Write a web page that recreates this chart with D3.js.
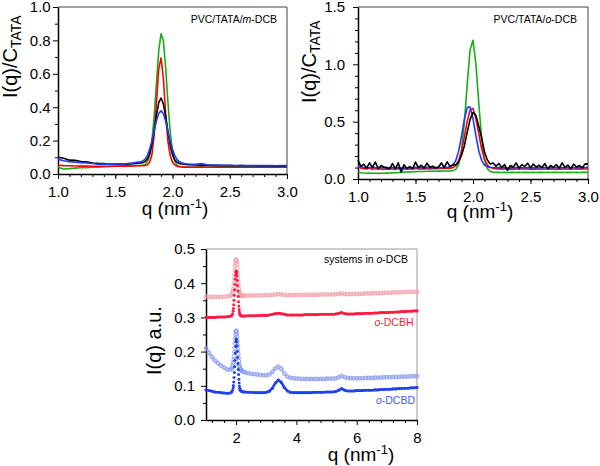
<!DOCTYPE html>
<html><head><meta charset="utf-8">
<script src="https://cdn.jsdelivr.net/npm/d3@7"></script>
<style>body{margin:0;background:#fff;} svg{display:block;font-family:"Liberation Sans",Arial,sans-serif;}</style>
</head><body><svg id="c" width="600" height="466"></svg>
<script>
// ---------- Panel 1: PVC/TATA/m-DCB ----------
const qTL = [1.00,1.05,1.10,1.15,1.20,1.25,1.30,1.35,1.40,1.45,1.50,1.55,1.60,1.65,1.70,
  1.72,1.74,1.76,1.78,1.80,1.82,1.84,1.86,1.88,1.90,1.92,1.94,1.96,1.98,2.00,2.02,2.04,2.06,2.08,2.10,2.12,2.14,
  2.20,2.25,2.30,2.35,2.40,2.45,2.50,2.55,2.60,2.65,2.70,2.75,2.80,2.85,2.90,2.95,3.00];
const tlGreen = [.040,.030,.032,.035,.037,.038,.040,.041,.043,.045,.047,.048,.049,.050,.051,
  .051,.052,.057,.072,.110,.195,.345,.545,.740,.840,.800,.640,.430,.252,.135,.075,.051,.045,.043,.042,.042,.042,
  .042,.043,.042,.042,.043,.042,.042,.042,.043,.042,.042,.042,.043,.042,.042,.042,.042];
const tlRed = [.052,.050,.049,.048,.047,.047,.046,.046,.046,.046,.046,.047,.047,.048,.049,
  .049,.050,.051,.054,.070,.115,.235,.430,.630,.695,.575,.365,.195,.110,.070,.054,.047,.044,.042,.041,.041,.040,
  .040,.041,.040,.040,.041,.040,.040,.040,.041,.040,.040,.040,.041,.040,.040,.040,.040];
const tlBlack = [.100,.094,.083,.082,.074,.073,.066,.064,.063,.058,.060,.061,.059,.062,.064,
  .066,.068,.075,.090,.120,.178,.260,.352,.427,.455,.420,.345,.255,.172,.115,.085,.070,.063,.060,.058,.057,.056,
  .054,.053,.052,.051,.051,.050,.050,.049,.050,.049,.048,.049,.048,.048,.047,.048,.047];
const tlBlue = [.088,.079,.074,.071,.068,.066,.063,.058,.060,.059,.058,.061,.062,.065,.071,
  .072,.078,.088,.110,.148,.198,.260,.319,.364,.378,.362,.317,.257,.196,.146,.110,.086,.074,.067,.063,.061,.060,
  .058,.062,.055,.054,.053,.052,.052,.051,.051,.050,.051,.050,.050,.050,.049,.050,.050];

// ---------- Panel 2: PVC/TATA/o-DCB ----------
const qTR = [1.000,1.025,1.050,1.075,1.100,1.125,1.150,1.175,1.200,1.225,1.250,1.275,1.300,1.325,1.350,1.375,
  1.400,1.425,1.450,1.475,1.500,1.525,1.550,1.575,1.600,1.625,1.650,1.675,1.700,1.725,1.750,1.775,
  1.800,1.825,1.850,1.875,1.900,1.925,1.950,1.975,2.000,2.025,2.050,2.075,2.100,2.125,2.150,2.175,
  2.200,2.225,2.250,2.275,2.300,2.325,2.350,2.375,2.400,2.425,2.450,2.475,2.500,2.525,2.550,2.575,
  2.600,2.625,2.650,2.675,2.700,2.725,2.750,2.775,2.800,2.825,2.850,2.875,2.900,2.925,2.950,2.975,3.000];
const trGreen = [.065,.055,.052,.050,.051,.050,.050,.049,.050,.050,.051,.052,.053,.055,.057,.058,.060,.061,.062,.063,
  .064,.065,.066,.066,.067,.067,.068,.068,.069,.069,.070,.070,.071,.073,.084,.128,.250,.492,.834,1.130,
  1.210,1.005,.665,.355,.170,.090,.066,.060,.058,
  .058,.057,.058,.057,.058,.058,.057,.058,.057,.058,.058,.057,.058,.057,.058,.058,
  .057,.058,.057,.058,.058,.057,.058,.057,.058,.058,.057,.058,.057,.058,.058,.058];
const trRed = [.105,.095,.090,.088,.095,.085,.092,.086,.090,.084,.088,.085,.090,.083,.092,.080,.089,.085,.090,.086,
  .093,.087,.090,.088,.092,.088,.091,.089,.092,.091,.092,.093,.095,.099,.116,.159,.242,.367,.504,.602,
  .616,.529,.395,.264,.172,.122,.100,.093,.090,
  .088,.085,.090,.084,.088,.086,.089,.085,.088,.087,.090,.084,.088,.086,.089,.085,
  .087,.088,.086,.089,.084,.088,.086,.089,.085,.088,.087,.089,.086,.088,.087,.090];
const trBlue = [.115,.105,.100,.103,.098,.104,.100,.097,.102,.098,.101,.097,.100,.096,.101,.095,.099,.097,.100,.098,
  .101,.098,.100,.099,.101,.099,.100,.099,.100,.100,.100,.101,.106,.121,.160,.243,.373,.521,.625,.627,
  .527,.379,.247,.163,.122,.106,.102,.100,.100,
  .099,.097,.100,.096,.099,.098,.100,.097,.099,.098,.100,.096,.099,.097,.100,.098,
  .099,.097,.100,.098,.099,.097,.100,.098,.099,.097,.100,.098,.101,.099,.100,.102];
const trBlack = [.165,.110,.128,.095,.140,.100,.148,.092,.118,.105,.098,.090,.135,.088,.142,.062,.125,.092,.108,.090,
  .148,.100,.120,.095,.138,.102,.112,.095,.105,.140,.100,.150,.110,.125,.123,.148,.205,.290,.410,.520,
  .580,.555,.460,.360,.235,.165,.130,.140,.112,
  .135,.100,.125,.075,.118,.105,.140,.095,.125,.110,.138,.098,.130,.105,.120,.100,
  .135,.088,.118,.102,.125,.095,.140,.100,.122,.090,.130,.105,.118,.098,.132,.130];

// ---------- Panel 3: systems in o-DCB ----------
const qB = [1.0,1.1,1.2,1.3,1.4,1.5,1.6,1.7,1.8, 1.85,1.88,
  1.90,1.91,1.92,1.93,1.94,1.95,1.96,1.97,1.98,1.99,2.00,2.01,2.02,2.03,2.04,2.05,2.06,2.07,2.08,2.09,2.10,2.11,2.12,2.13,2.14,
  2.16,2.18,2.20,2.25,2.30,
  2.4,2.5,2.6,2.7,2.8,2.9,3.0, 3.1,3.2,3.3,3.4,3.5,3.6,3.7,3.8,3.9,
  4.0,4.1,4.2,4.3,4.4,4.5,4.6,4.7,4.8,4.9, 5.0,5.1,5.2,5.3,5.4,5.5,5.6,5.7,5.8,5.9,
  6.0,6.1,6.2,6.3,6.4,6.5,6.6,6.7,6.8,6.9, 7.0,7.1,7.2,7.3,7.4,7.5,7.6,7.7,7.8,7.9, 8.0];
const hLight = [.361,.360,.360,.360,.360,.360,.361,.361,.363, .366,.371,
  .377,.383,.391,.401,.413,.425,.438,.450,.459,.466,.469,.468,.463,.455,.444,.431,.418,.405,.393,.383,.376,.371,.368,.366,.365,
  .364,.364,.364,.364,.364,
  .364,.364,.364,.364,.364,.365,.365, .365,.366,.367,.368,.367,.366,.365,.365,.365,
  .365,.365,.366,.366,.366,.366,.366,.366,.367,.367, .367,.367,.367,.368,.369,.370,.368,.368,.368,.368,
  .369,.369,.369,.370,.370,.370,.371,.371,.371,.372, .372,.372,.373,.373,.373,.374,.374,.374,.375,.375, .375];
const hDark = [.300,.300,.300,.300,.301,.301,.301,.302,.303, .305,.310,
  .318,.326,.337,.350,.365,.381,.397,.412,.424,.432,.436,.435,.430,.421,.408,.393,.377,.361,.346,.333,.323,.316,.311,.308,.306,
  .305,.304,.304,.304,.304,
  .305,.305,.305,.305,.306,.306,.306, .307,.309,.311,.312,.311,.309,.307,.307,.307,
  .307,.307,.307,.308,.308,.308,.308,.308,.309,.309, .309,.309,.309,.310,.312,.314,.311,.310,.310,.310,
  .311,.311,.311,.312,.312,.312,.313,.313,.314,.314, .314,.315,.315,.316,.316,.317,.317,.318,.318,.319, .319];
const dLight = [.210,.196,.184,.174,.166,.159,.153,.148,.147, .150,.156,
  .162,.168,.176,.186,.198,.211,.225,.239,.250,.258,.261,.259,.253,.243,.231,.218,.205,.193,.182,.172,.164,.158,.153,.150,.148,
  .146,.144,.143,.141,.139,
  .137,.135,.134,.133,.132,.131,.131, .133,.140,.151,.156,.150,.136,.127,.123,.122,
  .121,.121,.120,.120,.120,.120,.120,.120,.120,.120, .121,.121,.121,.122,.125,.129,.125,.123,.122,.122,
  .122,.122,.122,.123,.123,.123,.124,.124,.124,.125, .125,.125,.126,.126,.126,.127,.127,.127,.128,.128, .128];
const dDark = [.088,.086,.084,.082,.081,.080,.079,.078,.079, .082,.087,
  .094,.101,.111,.124,.139,.156,.175,.196,.215,.229,.237,.236,.229,.217,.201,.183,.165,.148,.133,.119,.108,.099,.093,.089,.087,
  .085,.084,.083,.082,.082,
  .081,.081,.080,.080,.080,.080,.081, .084,.093,.108,.117,.110,.095,.085,.081,.080,
  .080,.080,.080,.080,.080,.080,.081,.081,.081,.081, .082,.082,.082,.083,.087,.092,.087,.085,.085,.085,
  .086,.086,.086,.087,.087,.087,.088,.088,.089,.089, .090,.090,.091,.091,.092,.092,.093,.093,.094,.094, .095];

// tick labels
const tlXTicks = [1.0,1.5,2.0,2.5,3.0], tlXLabels = ["1.0","1.5","2.0","2.5","3.0"];
const tlYTicks = [0,0.2,0.4,0.6,0.8,1.0], tlYLabels = ["0.0","0.2","0.4","0.6","0.8","1.0"];
const trYTicks = [0,0.5,1.0,1.5], trYLabels = ["0.0","0.5","1.0","1.5"];
const bXTicks = [2,4,6,8], bXLabels = ["2","4","6","8"];
const bYTicks = [0,0.1,0.2,0.3,0.4,0.5], bYLabels = ["0.0","0.1","0.2","0.3","0.4","0.5"];

const svg = d3.select("#c");

function panel(o){
  const x = d3.scaleLinear().domain(o.xd).range([o.x0,o.x1]);
  const y = d3.scaleLinear().domain(o.yd).range([o.y0,o.y1]);
  const g = svg.append("g");
  g.append("line").attr("x1",o.x0).attr("x2",o.x1).attr("y1",o.y1).attr("y2",o.y1).attr("stroke",o.frame).attr("stroke-width",1);
  g.append("line").attr("x1",o.x1).attr("x2",o.x1).attr("y1",o.y1).attr("y2",o.y0).attr("stroke",o.frame).attr("stroke-width",1);
  g.append("g").attr("transform",`translate(0,${o.y0})`)
    .call(d3.axisBottom(x).tickValues(o.xMinor).tickSize(3).tickSizeOuter(0).tickFormat(""))
    .call(s=>s.select(".domain").remove());
  g.append("g").attr("transform",`translate(${o.x0},0)`)
    .call(d3.axisLeft(y).tickValues(o.yMinor).tickSize(3).tickSizeOuter(0).tickFormat(""))
    .call(s=>s.select(".domain").remove());
  const ax = g.append("g").attr("transform",`translate(0,${o.y0})`)
    .call(d3.axisBottom(x).tickValues(o.xTicks).tickSize(5).tickSizeOuter(0).tickPadding(o.xpad).tickFormat((d,i)=>o.xLabels[i]));
  const ay = g.append("g").attr("transform",`translate(${o.x0},0)`)
    .call(d3.axisLeft(y).tickValues(o.yTicks).tickSize(5).tickSizeOuter(0).tickPadding(o.ypad).tickFormat((d,i)=>o.yLabels[i]));
  [ax,ay].forEach(a=>{
    a.select(".domain").attr("stroke","#000").attr("stroke-width",1.5);
    a.selectAll("text").attr("font-size",15).attr("font-family","Liberation Sans, Arial, sans-serif").attr("fill","#000");
  });
  g.selectAll(".tick line").attr("stroke","#000").attr("stroke-width",1);
  return {x,y,g};
}

function lines(p, q, series){
  const gen = d3.line().x((d,i)=>p.x(q[i])).y(d=>p.y(d));
  series.forEach(s=>{
    p.g.append("path").attr("d",gen(s.v)).attr("fill","none").attr("stroke",s.c)
      .attr("stroke-width",1.6).attr("stroke-linejoin","round");
  });
}

// Panel 1
const p1 = panel({xd:[1,3],yd:[0,1],x0:58,x1:287,y0:174,y1:7,frame:"#444",
  xTicks:tlXTicks,xLabels:tlXLabels,yTicks:tlYTicks,yLabels:tlYLabels,
  xMinor:d3.range(1.1,3.0,0.1),yMinor:[0.1,0.3,0.5,0.7,0.9],xpad:7,ypad:2.3});
lines(p1,qTL,[{v:tlGreen,c:"#16b016"},{v:tlRed,c:"#ff0000"},{v:tlBlack,c:"#000000"},{v:tlBlue,c:"#1a3cff"}]);

// Panel 2
const p2 = panel({xd:[1,3],yd:[0,1.5],x0:358,x1:588,y0:179,y1:7,frame:"#444",
  xTicks:tlXTicks,xLabels:tlXLabels,yTicks:trYTicks,yLabels:trYLabels,
  xMinor:d3.range(1.1,3.0,0.1),yMinor:[0.1,0.2,0.3,0.4,0.6,0.7,0.8,0.9,1.1,1.2,1.3,1.4],xpad:7,ypad:8});
lines(p2,qTR,[{v:trGreen,c:"#16b016"},{v:trRed,c:"#ff0000"},{v:trBlue,c:"#1a3cff"},{v:trBlack,c:"#000000"}]);

// Panel 3
const p3 = panel({xd:[1,8],yd:[0,0.5],x0:206,x1:417,y0:420,y1:249,frame:"#999",
  xTicks:bXTicks,xLabels:bXLabels,yTicks:bYTicks,yLabels:bYLabels,
  xMinor:[1.2,1.6,2.4,2.8,3.2,3.6,4.4,4.8,5.2,5.6,6.4,6.8,7.2,7.6],yMinor:[0.05,0.15,0.25,0.35,0.45],xpad:7.6,ypad:6});

// scatter drawn as dense markers; markers along the coarse q grid are joined into a band
function dots(p,q,v,col,open){
  const pts = v.map((d,i)=>[p.x(q[i]),p.y(d)]);
  const segs = [];
  for(let i=1;i<pts.length;i++){
    const dx=pts[i][0]-pts[i-1][0];
    if(dx>=1.4) segs.push([pts[i-1],pts[i]]);
  }
  p.g.append("path").attr("d",segs.map(s=>`M${s[0][0]},${s[0][1]}L${s[1][0]},${s[1][1]}`).join(""))
    .attr("fill","none").attr("stroke",col).attr("stroke-width",open?3.2:2.6)
    .attr("stroke-linecap","round").attr("opacity",open?0.55:1);
  p.g.append("g").selectAll("circle").data(pts).join("circle")
    .attr("cx",d=>d[0]).attr("cy",d=>d[1])
    .attr("r",open?1.9:1.5)
    .attr("fill",open?"none":col).attr("stroke",open?col:"none").attr("stroke-width",open?0.9:0);
}
dots(p3,qB,hLight,"#f5a0aa",true);
dots(p3,qB,dLight,"#8b9cf0",true);
dots(p3,qB,hDark,"#ff1a40",false);
dots(p3,qB,dDark,"#1f40f0",false);

// ---------- Texts ----------
function ytitle(x,y,main,sub,size){
  const t = svg.append("text").attr("transform",`translate(${x},${y}) rotate(-90)`)
    .attr("font-size",size).attr("fill","#000").text(main);
  if(sub) t.append("tspan").attr("font-size",size*0.7).attr("dy",size*0.22).text(sub);
}
function xtitle(x,y){
  const t = svg.append("text").attr("x",x).attr("y",y).attr("text-anchor","middle").attr("font-size",19).attr("fill","#000");
  t.append("tspan").text("q (nm");
  t.append("tspan").attr("font-size",13).attr("dy",-7).text("-1");
  t.append("tspan").attr("dy",7).text(")");
}
ytitle(17,98,"I(q)/C","TATA",20);
ytitle(316,103,"I(q)/C","TATA",20);
ytitle(161,375,"I(q) a.u.",null,20);
xtitle(175,215);
xtitle(480,218);
xtitle(361,461);

function note(x,y,parts,col,anchor){
  const t = svg.append("text").attr("x",x).attr("y",y).attr("text-anchor",anchor||"end").attr("font-size",10.5).attr("fill",col||"#000");
  parts.forEach(p=>t.append("tspan").attr("font-style",p[1]?"italic":"normal").text(p[0]));
}
note(277,23,[["PVC/TATA/",0],["m",1],["-DCB",0]]);
note(577,22.5,[["PVC/TATA/",0],["o",1],["-DCB",0]]);
note(408,263,[["systems in ",0],["o",1],["-DCB",0]]);
note(413.5,326,[["o",1],["-DCBH",0]],"#ff1a40");
note(415,404,[["o",1],["-DCBD",0]],"#3d5cf0");
</script></body></html>
